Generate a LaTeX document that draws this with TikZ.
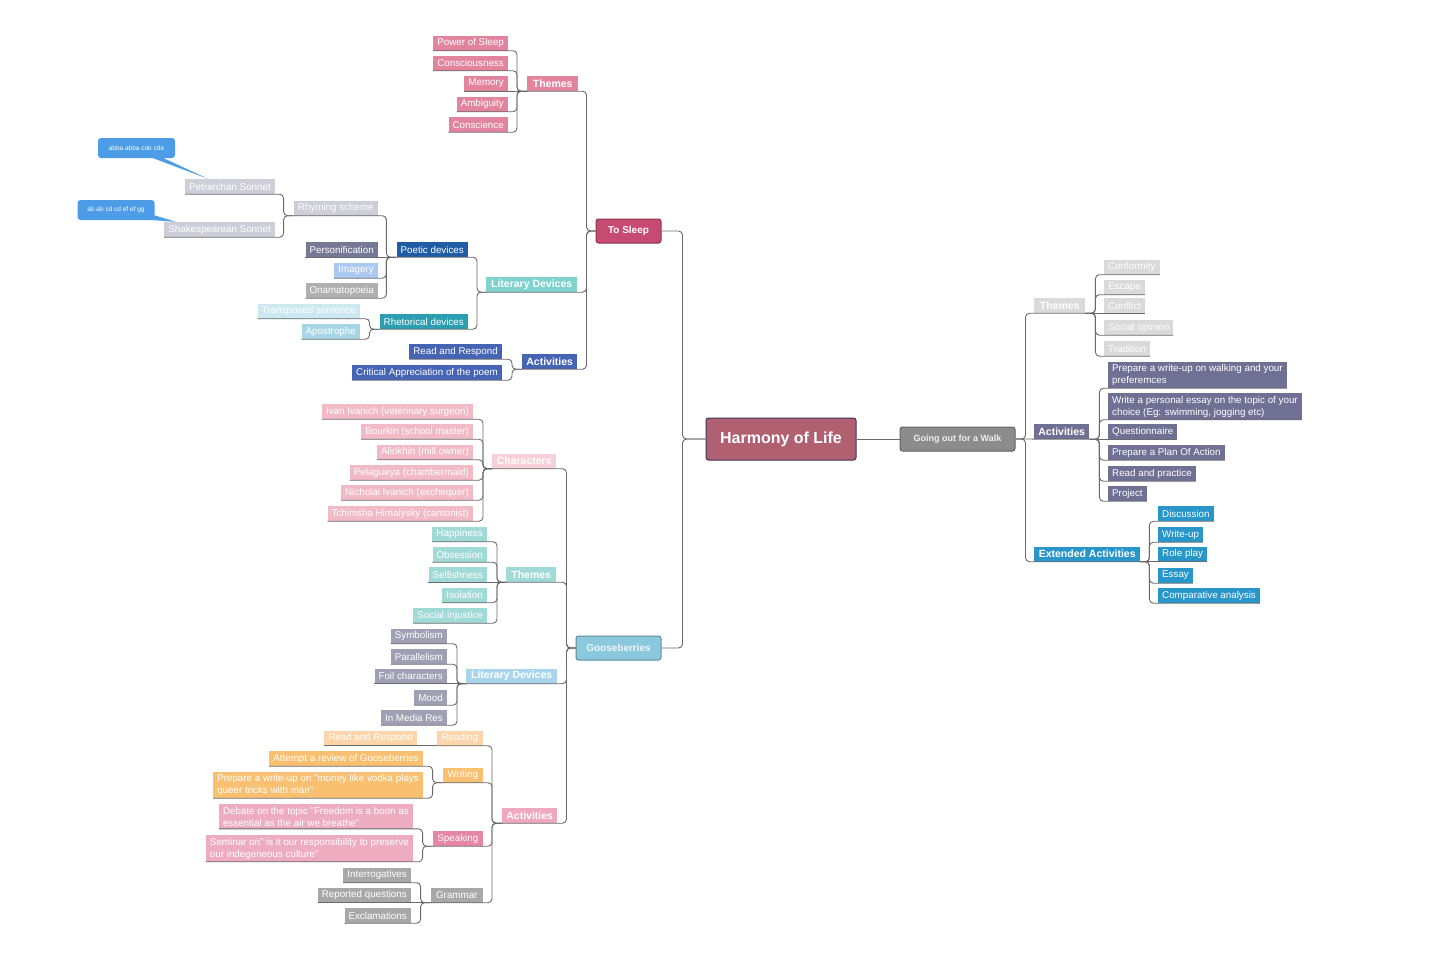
\documentclass[tikz,border=0pt]{standalone}
\usepackage{fontspec}
\setmainfont{Liberation Sans}
\definecolor{LineGray}{RGB}{105,105,110}
\definecolor{RootRed}{RGB}{176,96,112}
\definecolor{RootEdge}{RGB}{62,52,92}
\definecolor{SleepRose}{RGB}{198,74,114}
\definecolor{GooseSky}{RGB}{138,200,222}
\definecolor{WalkGray}{RGB}{140,140,140}
\definecolor{ThemePink}{RGB}{226,132,158}
\definecolor{LitTeal}{RGB}{128,210,206}
\definecolor{PoeticNavy}{RGB}{32,92,164}
\definecolor{RhetTeal}{RGB}{44,158,178}
\definecolor{PaleGray}{RGB}{206,206,216}
\definecolor{SlatePurple}{RGB}{118,120,150}
\definecolor{ImageBlue}{RGB}{170,200,240}
\definecolor{MidGray}{RGB}{176,176,176}
\definecolor{IceBlue}{RGB}{204,232,240}
\definecolor{PoolBlue}{RGB}{166,214,230}
\definecolor{ActBlue}{RGB}{70,100,180}
\definecolor{BubbleBlue}{RGB}{76,156,232}
\definecolor{CharPink}{RGB}{246,208,216}
\definecolor{CastPink}{RGB}{241,186,198}
\definecolor{ThemeAqua}{RGB}{160,218,214}
\definecolor{LitSky}{RGB}{168,212,236}
\definecolor{DeviceGray}{RGB}{160,160,180}
\definecolor{ActPink}{RGB}{240,168,190}
\definecolor{ReadPeach}{RGB}{252,214,170}
\definecolor{WriteOrange}{RGB}{248,192,112}
\definecolor{SpeakPink}{RGB}{230,134,164}
\definecolor{TalkPink}{RGB}{238,172,192}
\definecolor{GramGray}{RGB}{168,168,168}
\definecolor{WalkTheme}{RGB}{218,218,218}
\definecolor{WalkSlate}{RGB}{112,112,148}
\definecolor{ExtBlue}{RGB}{40,150,200}

\begin{document}
\begin{tikzpicture}[x=1pt,y=-1pt,
  link/.style={draw=LineGray,line width=0.9pt,rounded corners=4pt},
  leaf/.style={fill=#1,text=white,inner xsep=4pt,inner ysep=2.5pt,minimum height=15pt,font=\fontsize{9.8}{12}\selectfont},
  head/.style={leaf=#1,font=\fontsize{10.5}{12}\selectfont\bfseries},
  hub/.style={fill=#1,draw=#1!70!black,line width=1pt,rounded corners=2.5pt,text=white,minimum height=24pt,font=\fontsize{10}{12}\selectfont\bfseries},
  bubble/.style={fill=BubbleBlue,text=white,rounded corners=3pt,minimum width=77pt,minimum height=20pt,font=\fontsize{6.5}{8}\selectfont}]
\fill[white] (0,0) rectangle (1430,969);

% centre
\node[hub=RootRed,draw=RootEdge,minimum width=150pt,minimum height=42pt,font=\fontsize{16}{18}\selectfont\bfseries] (root) at (781,439) {Harmony of Life};
\node[hub=SleepRose,minimum width=65pt] (ts) at (628.5,231) {To Sleep};
\node[hub=GooseSky,minimum width=85pt,text=white!85!GooseSky] (goose) at (618.5,648) {Gooseberries};
\node[hub=WalkGray,minimum width=115pt,font=\fontsize{9}{11}\selectfont\bfseries,text=white!85!WalkGray] (walk) at (957.5,439) {Going out for a Walk};

% To Sleep
\node[head=ThemePink,anchor=west,minimum width=51pt] (tsThemes) at (527,83.5) {Themes};
\node[leaf=ThemePink,anchor=east] (tsPower) at (508,43) {Power of Sleep};
\node[leaf=ThemePink,anchor=east] (tsConsc) at (508,63) {Consciousness};
\node[leaf=ThemePink,anchor=east] (tsMemory) at (508,83.5) {Memory};
\node[leaf=ThemePink,anchor=east] (tsAmbig) at (508,104) {Ambiguity};
\node[leaf=ThemePink,anchor=east] (tsConsci) at (508,124.5) {Conscience};

\node[head=LitTeal,anchor=west,minimum width=91pt] (tsLit) at (486,284.5) {Literary Devices};
\node[leaf=PoeticNavy,anchor=east,minimum width=71pt] (tsPoetic) at (468,249.5) {Poetic devices};
\node[leaf=RhetTeal,anchor=east,minimum width=88pt] (tsRhet) at (468,321.5) {Rhetorical devices};
\node[leaf=PaleGray,anchor=east,minimum width=84pt] (tsRhyme) at (378,208) {Rhyming scheme};
\node[leaf=SlatePurple,anchor=east] (tsPerson) at (378,249.5) {Personification};
\node[leaf=ImageBlue,anchor=east] (tsImag) at (378,270.5) {Imagery};
\node[leaf=MidGray,anchor=east] (tsOnam) at (378,290.5) {Onamatopoeia};
\node[leaf=PaleGray,anchor=east] (tsPetr) at (275,186.5) {Petrarchan Sonnet};
\node[leaf=PaleGray,anchor=east] (tsShak) at (275,229.5) {Shakespearean Sonnet};
\node[leaf=IceBlue,anchor=east] (tsTrans) at (360,311) {Transposed sentence};
\node[leaf=PoolBlue,anchor=east] (tsApos) at (360,331.5) {Apostrophe};
\node[bubble] (bubA) at (136.5,148) {abba abba cde cde};
\node[bubble] (bubB) at (116,210) {ab ab cd cd ef ef gg};

\node[head=ActBlue,anchor=west,minimum width=55pt] (tsAct) at (522,361.5) {Activities};
\node[leaf=ActBlue,anchor=east] (tsRead) at (502,351.5) {Read and Respond};
\node[leaf=ActBlue,anchor=east] (tsCrit) at (502,372.5) {Critical Appreciation of the poem};

% Gooseberries
\node[head=CharPink,anchor=west,minimum width=64pt] (gChar) at (492,461) {Characters};
\node[leaf=CastPink,anchor=east] (gIvan) at (473,411.5) {Ivan Ivanich (veterinary surgeon)};
\node[leaf=CastPink,anchor=east] (gBourkin) at (473,431.5) {Bourkin (school master)};
\node[leaf=CastPink,anchor=east] (gAliokhin) at (473,452) {Aliokhin (mill owner)};
\node[leaf=CastPink,anchor=east] (gPelag) at (473,472.5) {Pelagueya (chambermaid)};
\node[leaf=CastPink,anchor=east] (gNichol) at (473,492.5) {Nicholai Ivanich (exchequer)};
\node[leaf=CastPink,anchor=east] (gTchim) at (473,513.5) {Tchimsha Himalysky (cantonist)};

\node[head=ThemeAqua,anchor=west,minimum width=50pt] (gThemes) at (506,574.5) {Themes};
\node[leaf=ThemeAqua,anchor=east] (gHappy) at (487,534) {Happiness};
\node[leaf=ThemeAqua,anchor=east] (gObsess) at (487,554.5) {Obsession};
\node[leaf=ThemeAqua,anchor=east] (gSelf) at (487,574.5) {Selfishness};
\node[leaf=ThemeAqua,anchor=east] (gIsol) at (487,595) {Isolation};
\node[leaf=ThemeAqua,anchor=east] (gSocial) at (487,615.5) {Social Injustice};

\node[head=LitSky,anchor=west,minimum width=91pt] (gLit) at (466,676) {Literary Devices};
\node[leaf=DeviceGray,anchor=east] (gSymbol) at (447,636) {Symbolism};
\node[leaf=DeviceGray,anchor=east] (gParall) at (447,656.5) {Parallelism};
\node[leaf=DeviceGray,anchor=east] (gFoil) at (447,676) {Foil characters};
\node[leaf=DeviceGray,anchor=east] (gMood) at (447,697.5) {Mood};
\node[leaf=DeviceGray,anchor=east] (gMedia) at (447,717.5) {In Media Res};

\node[head=ActPink,anchor=west,minimum width=55pt] (gAct) at (502,815.5) {Activities};
\node[leaf=ReadPeach,anchor=east,minimum width=46pt] (gReading) at (483,738) {Reading};
\node[leaf=WriteOrange,anchor=east,minimum width=40pt] (gWriting) at (483,775) {Writing};
\node[leaf=SpeakPink,anchor=east,minimum width=50pt] (gSpeak) at (483,838.5) {Speaking};
\node[leaf=GramGray,anchor=east,minimum width=52pt] (gGram) at (483,895) {Grammar};
\node[leaf=ReadPeach,anchor=east] (gReadR) at (417,738) {Read and Respond};
\node[leaf=WriteOrange,anchor=east] (gReview) at (423,758.5) {Attempt a review of Gooseberries};
\node[leaf=WriteOrange,anchor=east,align=left] (gVodka) at (423,785) {Prepare a write-up on "money like vodka plays\\queer tricks with man"};
\node[leaf=TalkPink,anchor=east,align=left] (gDebate) at (413,816.5) {Debate on the topic "Freedom is a boon as\\essential as the air we breathe"};
\node[leaf=TalkPink,anchor=east,align=left] (gSeminar) at (413,848.5) {Seminar on" is it our responsibility to preserve\\our indegeneous culture"};
\node[leaf=GramGray,anchor=east] (gInter) at (411,875) {Interrogatives};
\node[leaf=GramGray,anchor=east] (gReported) at (411,895) {Reported questions};
\node[leaf=GramGray,anchor=east] (gExcl) at (411,915.5) {Exclamations};

% Going out for a Walk
\node[head=WalkTheme,anchor=west,minimum width=51pt] (wThemes) at (1034,305.5) {Themes};
\node[leaf=WalkTheme,anchor=west] (wConform) at (1104,267) {Conformity};
\node[leaf=WalkTheme,anchor=west] (wEscape) at (1104,287) {Escape};
\node[leaf=WalkTheme,anchor=west] (wConflict) at (1104,305.5) {Conflict};
\node[leaf=WalkTheme,anchor=west] (wSocial) at (1104,327.5) {Social opinion};
\node[leaf=WalkTheme,anchor=west] (wTrad) at (1104,348.5) {Tradition};

\node[head=WalkSlate,anchor=west,minimum width=55pt] (wAct) at (1034,431.5) {Activities};
\node[leaf=WalkSlate,anchor=west,align=left] (wPrep) at (1108,375) {Prepare a write-up on walking and your\\preferemces};
\node[leaf=WalkSlate,anchor=west,align=left] (wEssay) at (1108,406.5) {Write a personal essay on the topic of your\\choice (Eg: swimming, jogging etc)};
\node[leaf=WalkSlate,anchor=west] (wQuest) at (1108,431.5) {Questionnaire};
\node[leaf=WalkSlate,anchor=west] (wPlan) at (1108,452.5) {Prepare a Plan Of Action};
\node[leaf=WalkSlate,anchor=west] (wPractice) at (1108,473.5) {Read and practice};
\node[leaf=WalkSlate,anchor=west] (wProject) at (1108,493.5) {Project};

\node[head=ExtBlue,anchor=west,minimum width=106pt] (wExt) at (1034,554) {Extended Activities};
\node[leaf=ExtBlue,anchor=west] (wDisc) at (1158,513.5) {Discussion};
\node[leaf=ExtBlue,anchor=west] (wWrite) at (1158,534.5) {Write-up};
\node[leaf=ExtBlue,anchor=west] (wRole) at (1158,554) {Role play};
\node[leaf=ExtBlue,anchor=west] (wEssayB) at (1158,575.5) {Essay};
\node[leaf=ExtBlue,anchor=west] (wComp) at (1158,595.5) {Comparative analysis};

% bubble tails
\fill[BubbleBlue] ([xshift=14pt,yshift=1pt]bubA.south) -- ([xshift=25pt,yshift=1pt]bubA.south) -- ([xshift=-67pt]tsPetr.north east) -- cycle;
\fill[BubbleBlue] ([xshift=24pt,yshift=1pt]bubB.south) -- ([xshift=38pt,yshift=5pt]bubB.south) -- ([xshift=-99pt]tsShak.north east) -- cycle;

% connectors
\draw[link] (root.west) -- ++(-23,0) |- (ts.east);
\draw[link] (root.west) -- ++(-23,0) |- (goose.east);
\draw[link] (root.east) -- (walk.west);

\foreach \c in {tsThemes,tsLit,tsAct} \draw[link] (ts.west) -- ++(-9,0) |- (\c.south west);
\foreach \c in {tsPower,tsConsc,tsAmbig,tsConsci} \draw[link] (tsThemes.south west) -- ++(-10,0) |- (\c.south west);
\draw[link] (tsThemes.south west) -- (tsMemory.south west);
\foreach \c in {tsPoetic,tsRhet} \draw[link] (tsLit.south west) -- ++(-9,0) |- (\c.south west);
\foreach \c in {tsRhyme,tsImag,tsOnam} \draw[link] (tsPoetic.south west) -- ++(-10,0) |- (\c.south west);
\draw[link] (tsPoetic.south west) -- (tsPerson.south west);
\foreach \c in {tsPetr,tsShak} \draw[link] (tsRhyme.south west) -- ++(-10,0) |- (\c.south west);
\foreach \c in {tsTrans,tsApos} \draw[link] (tsRhet.south west) -- ++(-10,0) |- (\c.south west);
\foreach \c in {tsRead,tsCrit} \draw[link] (tsAct.south west) -- ++(-10,0) |- (\c.south west);

\foreach \c in {gChar,gThemes,gLit,gAct} \draw[link] (goose.west) -- ++(-9,0) |- (\c.south west);
\foreach \c in {gIvan,gBourkin,gAliokhin,gPelag,gNichol,gTchim} \draw[link] (gChar.south west) -- ++(-9,0) |- (\c.south west);
\foreach \c in {gHappy,gObsess,gIsol,gSocial} \draw[link] (gThemes.south west) -- ++(-9,0) |- (\c.south west);
\draw[link] (gThemes.south west) -- (gSelf.south west);
\foreach \c in {gSymbol,gParall,gMood,gMedia} \draw[link] (gLit.south west) -- ++(-9,0) |- (\c.south west);
\draw[link] (gLit.south west) -- (gFoil.south west);
\foreach \c in {gReading,gWriting,gSpeak,gGram} \draw[link] (gAct.south west) -- ++(-10,0) |- (\c.south west);
\draw[link] (gReading.south west) -- (gReadR.south west);
\foreach \c in {gReview,gVodka} \draw[link] (gWriting.south west) -- ++(-10,0) |- (\c.south west);
\foreach \c in {gDebate,gSeminar} \draw[link] (gSpeak.south west) -- ++(-10,0) |- (\c.south west);
\foreach \c in {gInter,gExcl} \draw[link] (gGram.south west) -- ++(-10,0) |- (\c.south west);
\draw[link] (gGram.south west) -- (gReported.south west);

\foreach \c in {wThemes,wExt} \draw[link] (walk.east) -- ++(10,0) |- (\c.south east);
\draw[link] (walk.east) -- (wAct.south east);
\foreach \c in {wConform,wEscape,wSocial,wTrad} \draw[link] (wThemes.south east) -- ++(10,0) |- (\c.south east);
\draw[link] (wThemes.south east) -- (wConflict.south east);
\foreach \c in {wPrep,wEssay,wPlan,wPractice,wProject} \draw[link] (wAct.south east) -- ++(10,0) |- (\c.south east);
\draw[link] (wAct.south east) -- (wQuest.south east);
\foreach \c in {wDisc,wWrite,wEssayB,wComp} \draw[link] (wExt.south east) -- ++(9,0) |- (\c.south east);
\draw[link] (wExt.south east) -- (wRole.south east);
\end{tikzpicture}
\end{document}
